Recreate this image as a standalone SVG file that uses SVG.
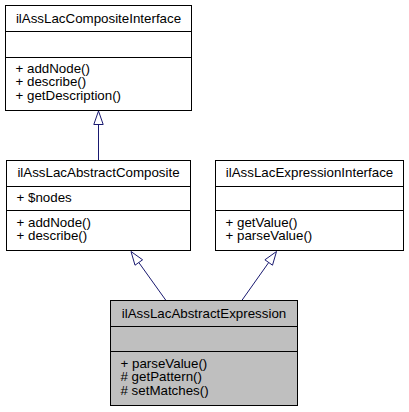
<svg xmlns="http://www.w3.org/2000/svg" width="409" height="412" viewBox="0 0 409 412">
<style>
.box{fill:#ffffff;stroke:#000000;stroke-width:1}
.cur{fill:#bfbfbf;stroke:#000000;stroke-width:1}
.sep{stroke:#000000;stroke-width:1;fill:none}
text{font-family:"Liberation Sans",Arial,Helvetica,sans-serif;font-size:13.33px;fill:#000000}
.t{text-anchor:middle}
.edge{stroke:#191970;stroke-width:1;fill:none}
.head{stroke:#191970;stroke-width:1;fill:#ffffff}
</style>
<rect width="409" height="412" fill="#ffffff"/>
<g id="connectors">
<line class="edge" x1="98.5" y1="160.5" x2="98.5" y2="124.5"/>
<polygon class="head" points="98.5,111 93.8,124.5 103.2,124.5"/>
<line class="edge" x1="166" y1="300.5" x2="138.8" y2="262.5"/>
<polygon class="head" points="131,251.5 135,265.2 142.6,259.8"/>
<line class="edge" x1="241.8" y1="300.5" x2="268.7" y2="262.5"/>
<polygon class="head" points="276.5,251.5 272.5,265.2 264.9,259.8"/>
</g>
<g id="ilAssLacCompositeInterface">
<rect class="box" x="5.5" y="5.5" width="186" height="105"/>
<line class="sep" x1="5.5" y1="31.5" x2="191.5" y2="31.5"/>
<line class="sep" x1="5.5" y1="57.5" x2="191.5" y2="57.5"/>
<text class="t" x="98.5" y="22.5">ilAssLacCompositeInterface</text>
<text x="15.5" y="73">+ addNode()</text>
<text x="15.5" y="86.3">+ describe()</text>
<text x="15.5" y="99.7">+ getDescription()</text>
</g>
<g id="ilAssLacAbstractComposite">
<rect class="box" x="6.5" y="160.5" width="184" height="90"/>
<line class="sep" x1="6.5" y1="186.5" x2="190.5" y2="186.5"/>
<line class="sep" x1="6.5" y1="210.5" x2="190.5" y2="210.5"/>
<text class="t" x="98.5" y="177">ilAssLacAbstractComposite</text>
<text x="16.5" y="202">+ $nodes</text>
<text x="16.5" y="227">+ addNode()</text>
<text x="16.5" y="240.3">+ describe()</text>
</g>
<g id="ilAssLacExpressionInterface">
<rect class="box" x="215.5" y="160.5" width="188" height="90"/>
<line class="sep" x1="215.5" y1="186.5" x2="403.5" y2="186.5"/>
<line class="sep" x1="215.5" y1="210.5" x2="403.5" y2="210.5"/>
<text class="t" x="309.5" y="177">ilAssLacExpressionInterface</text>
<text x="225.5" y="227">+ getValue()</text>
<text x="225.5" y="240.3">+ parseValue()</text>
</g>
<g id="ilAssLacAbstractExpression">
<rect class="cur" x="110.5" y="300.5" width="187" height="105"/>
<line class="sep" x1="110.5" y1="326.5" x2="297.5" y2="326.5"/>
<line class="sep" x1="110.5" y1="351.5" x2="297.5" y2="351.5"/>
<text class="t" x="204" y="317.5">ilAssLacAbstractExpression</text>
<text x="120.5" y="368">+ parseValue()</text>
<text x="120.5" y="381.3"># getPattern()</text>
<text x="120.5" y="394.7"># setMatches()</text>
</g>
</svg>
